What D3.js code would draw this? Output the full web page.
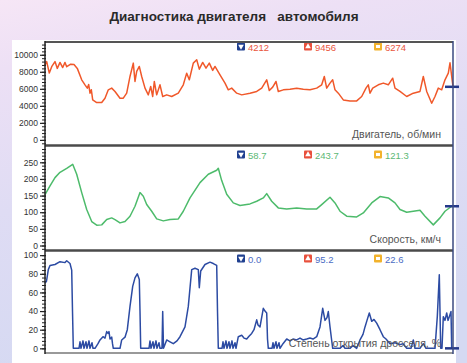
<!DOCTYPE html>
<html>
<head>
<meta charset="utf-8">
<script src="https://cdn.jsdelivr.net/npm/d3@7"></script>
<style>
  html, body { margin: 0; padding: 0; }
  body { width: 467px; height: 363px; overflow: hidden; }
  text { font-family: "Liberation Sans", Arial, sans-serif; }
</style>
</head>
<body>
<svg id="chart" width="467" height="363"></svg>
<script>
"use strict";

/* ── Data ──────────────────────────────────────────────────────────── */

const TITLE = "Диагностика двигателя   автомобиля";

/* engine speed, rpm */
const rpmTime = [0, 1.7, 4.3, 6.7, 10, 12.3, 15, 17.7, 20, 21.7, 25.7, 29, 32.3, 36.7, 40, 42.3, 43.7, 45, 46.3, 47.7,
  51.7, 56.7, 60, 63.3, 66.7, 70, 75, 78.3, 81.7, 85, 88.3, 90, 91.7, 94.3, 96.7, 100, 103.3, 105.7, 107.7, 109.3,
  111.7, 115, 117.7, 121.7, 126.7, 133.3, 138.3, 141.7, 144.3, 148.3, 151.7, 154.3, 157.7, 161, 164.3, 167.7, 170,
  175, 180, 183.3, 186.7, 191.7, 196.7, 205, 211.7, 216.7, 221.7, 224.3, 227.7, 231, 233.3, 238.3, 245, 251.7,
  258.3, 265, 271.7, 276.7, 279.3, 281.7, 285, 287.7, 290, 293.3, 298.3, 305, 311.7, 316.7, 321, 323.3, 325, 327.7,
  333.3, 338.3, 343.3, 347.7, 350, 355, 361.7, 368.3, 375, 378.3, 381.7, 386.7, 390, 393.3, 396.7, 400, 403.3, 405, 408];
const rpmValue = [8800, 9200, 7850, 8600, 9200, 8400, 9100, 8500, 9100, 8600, 8900, 8850, 8400, 7060, 6470, 6080, 6500, 5490, 5900, 4700,
  4390, 4390, 4900, 5880, 6080, 5690, 4900, 4900, 5490, 7450, 9020, 6860, 8040, 8630, 7450, 6080, 5290, 6270, 5100, 6860,
  5290, 6470, 5100, 5290, 5100, 5490, 6470, 7840, 7060, 9020, 9410, 8310, 9100, 8430, 9020, 8160, 8630,
  7650, 6670, 5880, 6080, 5490, 5290, 5490, 5690, 6080, 7060, 5800, 6200, 6860, 5690, 5880, 5960, 6080,
  5960, 5880, 6080, 6470, 7450, 6080, 6670, 7060, 5880, 5490, 4700, 4580, 4580, 5100, 6080, 6470, 5490, 6080,
  6470, 6670, 6470, 7250, 6080, 5690, 5100, 5490, 5690, 7450, 5690, 4300, 5100, 6080, 5880, 7060, 7840, 9060, 6235];

/* vehicle speed, km/h */
const speedTime = [0, 5, 10, 15, 21.7, 27.7, 31.7, 36.7, 41.7, 46.7, 51.7, 56.7, 61.7, 66.7, 70, 75, 80, 85, 90, 95,
  98.3, 101.7, 106.7, 111.7, 118.3, 125, 133.3, 138.3, 145, 155, 163.3, 171.7, 173.3, 176.7, 181.7, 188.3, 195, 205,
  211.7, 218.3, 221.7, 226.7, 233.3, 241.7, 251.7, 261.7, 271.7, 276.7, 285, 290, 295, 301.7, 311.7, 318.3, 326.7,
  335, 343.3, 350, 355, 361.7, 368.3, 375, 380, 388.3, 395, 400, 406.7, 408];
const speedValue = [153, 179, 204, 220, 232, 244, 214, 159, 108, 72, 61, 62, 78, 83, 78, 68, 72, 88, 118, 159,
  148, 123, 103, 80, 74, 78, 80, 103, 143, 189, 214, 226, 232, 195, 154, 128, 120, 125,
  133, 143, 156, 133, 113, 110, 113, 110, 110, 123, 145, 128, 103, 88, 86, 98, 128,
  147, 143, 128, 108, 100, 103, 106, 88, 62, 83, 103, 118, 118];

/* throttle opening, % */
const throttleTime = [0, 1.5, 3.3, 5, 10, 15, 20, 21.7, 25, 26.7, 27.5, 28.3, 34, 35, 36, 38, 39, 41, 42, 44, 45, 47, 48,
  50, 53, 55, 58, 60, 61.7, 63, 64, 65, 66.7, 67.5, 68.3, 75, 76.7, 80, 82.3, 85, 87.7, 90, 92.3, 94.3, 95, 95.7,
  104, 105, 106, 108, 109, 111, 112, 114, 115, 117, 117.7, 118.5, 121.7, 125, 128.3, 132, 135, 140, 143.3, 146.7,
  150, 153.3, 154.3, 155.7, 160, 165, 168.3, 171.7, 172.5, 173.3, 177, 178, 179, 181, 182, 184, 185, 187, 188, 190,
  191, 193.3, 196.7, 199, 201.7, 204, 206.7, 209, 211.7, 213, 215, 218.3, 220, 221.7, 222.5, 223.3, 227, 228, 229,
  231, 232, 234, 235, 238, 241.7, 245, 248, 251.7, 255, 258, 261.7, 265, 268, 271.7, 275, 277.7, 280, 282, 283.3,
  285, 286.5, 287.7, 295, 298, 300, 305, 308, 311.7, 315, 318, 320, 322, 324.3, 326.7, 329, 331.7, 335, 338.3, 341,
  345, 350, 355, 358, 361.7, 366, 368.3, 370, 375, 378.3, 381, 390, 392.3, 394.3, 395.7, 397, 398.3, 400, 401.7,
  403, 404.3, 406, 406.7, 408];
const throttleValue = [70, 72, 84.5, 89, 90, 93, 92, 94, 91, 84, 40, 0, 0, 7, 0, 8, 0, 7, 0, 8, 0, 6, 0,
  0, 5, 9, 12.5, 11, 18, 16, 18, 10, 12, 5, 0, 0, 9, 12, 20, 45, 66.5, 75.6, 80, 74, 40, 0,
  0, 8, 0, 7, 0, 8, 0, 6, 0, 0, 39.5, 0, 9, 7, 5, 8, 12.5, 23, 45, 84.5,
  86, 84.5, 65, 83, 90, 92.5, 91, 89, 40, 0, 0, 7, 0, 8, 0, 7, 0, 8, 0, 6,
  0, 12.5, 14, 11, 10, 13, 16, 20, 30.6, 25, 23, 43, 40, 38, 10, 0, 0, 6, 0,
  7, 0, 6, 0, 5, 10, 8, 10, 9, 11, 9, 10, 11, 10, 12.5, 23, 43, 30, 33, 39.5,
  23, 10, 0, 0, 3, 0, 0, 3, 0, 9, 15, 23, 30, 38, 29, 31, 27, 20, 12.5, 10,
  5, 6, 4, 5, 0, 0, 9, 0, 0, 5, 0, 0, 34, 79, 0, 0, 34, 30, 38,
  30, 34, 39.5, 0, 0];

/* axis ticks */
const rpmTicks      = [0, 2000, 4000, 6000, 8000, 10000];
const speedTicks    = [0, 50, 100, 150, 200, 250];
const throttleTicks = [0, 20, 40, 60, 80, 100];

/* summary boxes: min, max, mean */
const rpmStats      = ["4212", "9456", "6274"];
const speedStats    = ["58.7", "243.7", "121.3"];
const throttleStats = ["0.0", "95.2", "22.6"];

const panelTitles = ["Двигатель, об/мин", "Скорость, км/ч", "Степень открытия дросселя, %"];

/* ── Layout ─────────────────────────────────────────────────────────── */

const W = 467, H = 363;
const X0 = 45, X1 = 453;

const PANELS = [
  { time: rpmTime, value: rpmValue, ticks: rpmTicks, stats: rpmStats, title: panelTitles[0],
    top: 42, bottom: 145, domain: [-600, 11500], minor: 400,
    line: "#f0582a", statColor: "#e9553c", statY: 47, titleY: 138 },
  { time: speedTime, value: speedValue, ticks: speedTicks, stats: speedStats, title: panelTitles[1],
    top: 145, bottom: 250.5, domain: [-15, 302], minor: 10,
    line: "#4dbb6b", statColor: "#5cb874", statY: 155, titleY: 243 },
  { time: throttleTime, value: throttleValue, ticks: throttleTicks, stats: throttleStats, title: panelTitles[2],
    top: 250.5, bottom: 353, domain: [-5, 105], minor: 4,
    line: "#2c4ba3", statColor: "#4b6cc4", statY: 259, titleY: 347 }
];

/* icon squares: min (blue, down), max (red, up), mean (yellow, bar) */
const ICONS = [
  { x: 237, fill: "#1f3f8f", glyph: "down" },
  { x: 304, fill: "#e8503c", glyph: "up" },
  { x: 374, fill: "#f2b22c", glyph: "bar" }
];

const svg = d3.select("#chart");

/* ── Background ─────────────────────────────────────────────────────── */

const defs = svg.append("defs");
const grad = defs.append("linearGradient").attr("id", "bg")
  .attr("x1", 0).attr("y1", 0).attr("x2", 0.25).attr("y2", 1);
[["0", "#f6e6f6"], ["0.18", "#ede0f5"], ["0.55", "#dfdcf4"], ["1", "#d5d9f2"]].forEach(function (s) {
  grad.append("stop").attr("offset", s[0]).attr("stop-color", s[1]);
});

svg.append("rect").attr("width", W).attr("height", H).attr("fill", "url(#bg)");
svg.append("rect").attr("x", 12).attr("y", 40).attr("width", 444).attr("height", H - 40).attr("fill", "#ffffff");

svg.append("text")
  .attr("x", 234).attr("y", 21)
  .attr("text-anchor", "middle")
  .attr("font-size", 13.5).attr("font-weight", "bold")
  .attr("fill", "#2a2a2a")
  .style("white-space", "pre")
  .text(TITLE);

/* ── Panels ─────────────────────────────────────────────────────────── */

const x = d3.scaleLinear().domain([0, 408]).range([X0, X1]);

PANELS.forEach(function (p) {
  const y = d3.scaleLinear().domain(p.domain).range([p.bottom, p.top]);
  const g = svg.append("g");

  /* minor ticks */
  const minorVals = d3.range(Math.ceil(p.domain[0] / p.minor) * p.minor, p.domain[1], p.minor)
    .filter(function (v) { return y(v) > p.top + 1 && y(v) < p.bottom - 1; });
  g.append("g")
    .attr("transform", "translate(" + (X0 + 1) + ",0)")
    .call(d3.axisLeft(y).tickValues(minorVals).tickSize(4).tickFormat(""))
    .call(function (a) {
      a.select(".domain").remove();
      a.selectAll("line").attr("stroke", "#222").attr("stroke-width", 1);
    });

  /* major ticks + labels */
  g.append("g")
    .attr("transform", "translate(" + (X0 + 1) + ",0)")
    .call(d3.axisLeft(y).tickValues(p.ticks).tickSize(6).tickPadding(2).tickFormat(d3.format("d")))
    .call(function (a) {
      a.select(".domain").remove();
      a.selectAll("line").attr("stroke", "#222").attr("stroke-width", 1.2);
      a.selectAll("text")
        .attr("font-family", "Liberation Sans, Arial, sans-serif")
        .attr("font-size", 8.5).attr("fill", "#333");
    });

  /* series */
  const pts = p.time.map(function (t, i) { return [t, p.value[i]]; });
  g.append("path")
    .datum(pts)
    .attr("fill", "none")
    .attr("stroke", p.line)
    .attr("stroke-width", 1.5)
    .attr("stroke-linejoin", "round")
    .attr("d", d3.line().x(function (d) { return x(d[0]); }).y(function (d) { return y(d[1]); }));

  /* panel title */
  g.append("text")
    .attr("x", 441).attr("y", p.titleY)
    .attr("text-anchor", "end")
    .attr("font-size", 10.5).attr("fill", "#555")
    .text(p.title);

  /* summary boxes */
  ICONS.forEach(function (ic, i) {
    const cy = p.statY;
    g.append("rect")
      .attr("x", ic.x).attr("y", cy - 4.5).attr("width", 8).attr("height", 8).attr("rx", 1)
      .attr("fill", ic.fill);
    if (ic.glyph === "bar") {
      g.append("rect").attr("x", ic.x + 2).attr("y", cy - 2).attr("width", 4).attr("height", 3)
        .attr("fill", "#fff");
    } else {
      g.append("path")
        .attr("transform", "translate(" + (ic.x + 4) + "," + (cy - 0.5) + ")" + (ic.glyph === "down" ? " rotate(180)" : ""))
        .attr("d", d3.symbol(d3.symbolTriangle, 14)())
        .attr("fill", "#fff");
    }
    g.append("text")
      .attr("x", ic.x + 11).attr("y", cy + 3.5)
      .attr("font-size", 9.5).attr("fill", p.statColor)
      .text(p.stats[i]);
  });

  /* current-value marker at the right edge */
  g.append("line")
    .attr("x1", X1 - 8).attr("x2", X1 + 6)
    .attr("y1", y(p.value[p.value.length - 1])).attr("y2", y(p.value[p.value.length - 1]))
    .attr("stroke", "#24388a").attr("stroke-width", 2.5);
});

/* ── Frame ──────────────────────────────────────────────────────────── */

const frame = svg.append("g");
frame.append("line").attr("x1", X0).attr("x2", X1).attr("y1", 42).attr("y2", 42)
  .attr("stroke", "#555").attr("stroke-width", 2);
[145.5, 250.5].forEach(function (yy) {
  frame.append("line").attr("x1", X0).attr("x2", X1).attr("y1", yy).attr("y2", yy)
    .attr("stroke", "#4a4a4a").attr("stroke-width", 2.5);
});
frame.append("line").attr("x1", X0).attr("x2", X1).attr("y1", 353).attr("y2", 353)
  .attr("stroke", "#777").attr("stroke-width", 1.5);
frame.append("line").attr("x1", X0).attr("x2", X0).attr("y1", 41).attr("y2", 354)
  .attr("stroke", "#222").attr("stroke-width", 1.5);
frame.append("line").attr("x1", X1).attr("x2", X1).attr("y1", 41).attr("y2", 354)
  .attr("stroke", "#3a4a80").attr("stroke-width", 1.5);
</script>
</body>
</html>
